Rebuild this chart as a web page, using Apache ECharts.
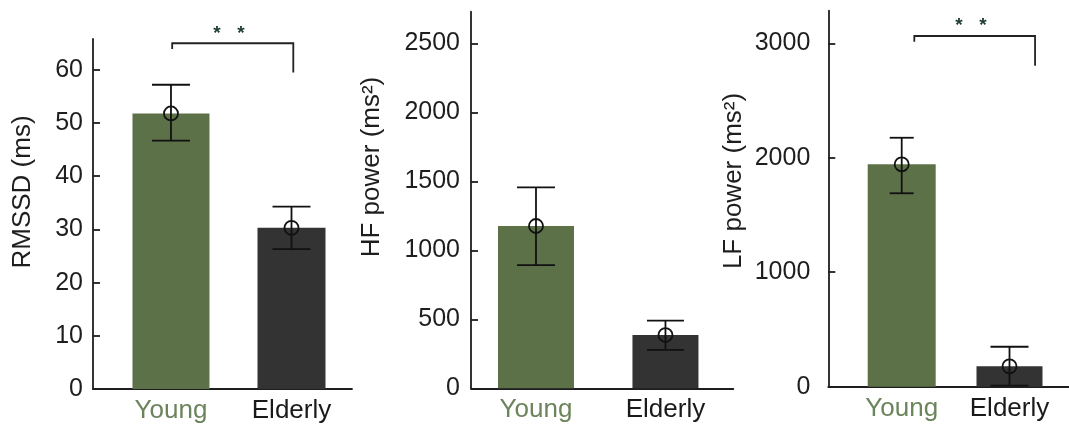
<!DOCTYPE html>
<html>
<head>
<meta charset="utf-8">
<script src="https://cdn.jsdelivr.net/npm/echarts@6/dist/echarts.min.js"></script>
<style>
html,body{margin:0;padding:0;background:#fff;}
#chart{width:1069px;height:424px;}
</style>
</head>
<body>
<div id="chart"></div>
<script>
// ---------------- data ----------------
const categories = ['Young', 'Elderly'];

const rmssdMean = [51.8, 30.3];
const rmssdLow  = [46.7, 26.3];
const rmssdHigh = [57.2, 34.3];

const hfMean = [1176, 386];
const hfLow  = [893, 278];
const hfHigh = [1456, 490];

const lfMean = [1943, 178];
const lfLow  = [1690, 10];
const lfHigh = [2175, 349];

const rmssdTicks = [0, 10, 20, 30, 40, 50, 60];
const hfTicks = [0, 500, 1000, 1500, 2000, 2500];
const lfTicks = [0, 1000, 2000, 3000];

// significance brackets: [xLeft, xRight, yTop, yLeftEnd, yRightEnd, xStars, yStars]
const rmssdBracket = [0.01, 1.015, 65.0, 63.9, 59.5, 0.48, 67.6];
const lfBracket = [0.117, 1.237, 3064, 3014, 2804, 0.642, 3190];
const sigLabel = '*';

const titles = ['RMSSD (ms)', 'HF power (ms²)', 'LF power (ms²)'];

// ---------------- style ----------------
const FONT = 'Liberation Sans, Arial, sans-serif';
const INK = '#1e1e1e';
const barColors = ['#5d7149', '#333333'];
const labelColors = ['#6c845c', '#1a1a1a'];
const starColor = '#1f3d33';
const LW = 1.8;

const panels = [
  {grid:{left:93, top:39, width:259, height:350}, xMin:-0.647, xMax:1.502, yMax:65.8,
   ticks:rmssdTicks, mean:rmssdMean, low:rmssdLow, high:rmssdHigh, barW:[77,68], capW:[38,38], labelMargin:10,
   bracket:rmssdBracket, title:titles[0], titlePos:[23,192]},
  {grid:{left:471, top:11.7, width:262.3, height:376.6}, xMin:-0.502, xMax:1.524, yMax:2729,
   ticks:hfTicks, mean:hfMean, low:hfLow, high:hfHigh, barW:[76,66], capW:[38,37], labelMargin:11,
   bracket:null, title:titles[1], titlePos:[372,167]},
  {grid:{left:828.3, top:10.7, width:240.7, height:376}, xMin:-0.681, xMax:1.552, yMax:3285,
   ticks:lfTicks, mean:lfMean, low:lfLow, high:lfHigh, barW:[68,66], capW:[24,38], labelMargin:18,
   bracket:lfBracket, title:titles[2], titlePos:[734,181]}
];

const grids = [], xAxes = [], yAxes = [], series = [], graphics = [];

panels.forEach((p, k) => {
  grids.push(Object.assign({containLabel:false}, p.grid));
  xAxes.push({
    type:'value', gridIndex:k, min:p.xMin, max:p.xMax,
    splitLine:{show:false},
    axisLine:{show:true, onZero:false, lineStyle:{color:INK, width:LW}},
    axisTick:{show:false},
    axisLabel:{
      customValues:[0, 1],
      formatter:(v) => categories[Math.round(v)],
      color:(v) => labelColors[Math.round(Number(v))] || INK,
      fontFamily:FONT, fontSize:26, margin:9
    }
  });
  yAxes.push({
    type:'value', gridIndex:k, min:0, max:p.yMax,
    splitLine:{show:false},
    axisLine:{show:true, onZero:false, lineStyle:{color:INK, width:LW}},
    axisTick:{show:true, inside:true, length:7, customValues:p.ticks, lineStyle:{color:INK, width:LW}},
    axisLabel:{customValues:p.ticks, formatter:(v) => String(v), fontFamily:FONT, fontSize:25, color:INK, margin:p.labelMargin}
  });

  // bars
  series.push({
    type:'custom', xAxisIndex:k, yAxisIndex:k, clip:false, z:2,
    data: categories.map((c, i) => [i, p.mean[i]]),
    encode:{x:0, y:1},
    renderItem:(params, api) => {
      const i = api.value(0);
      const top = api.coord([i, api.value(1)]);
      const base = api.coord([i, 0]);
      const w = p.barW[i];
      return {type:'rect', shape:{x:top[0]-w/2, y:top[1], width:w, height:base[1]-top[1]},
              style:{fill:barColors[i]}};
    }
  });

  // error bars + mean circles
  series.push({
    type:'custom', xAxisIndex:k, yAxisIndex:k, clip:false, z:3,
    data: categories.map((c, i) => [i, p.low[i], p.high[i], p.mean[i]]),
    encode:{x:0, y:[1,2,3]},
    renderItem:(params, api) => {
      const i = api.value(0);
      const lo = api.coord([i, api.value(1)]);
      const hi = api.coord([i, api.value(2)]);
      const m = api.coord([i, api.value(3)]);
      const hw = p.capW[i]/2;
      const ls = {stroke:'#111', lineWidth:LW, fill:null};
      return {type:'group', children:[
        {type:'line', shape:{x1:lo[0], y1:lo[1], x2:hi[0], y2:hi[1]}, style:ls},
        {type:'line', shape:{x1:hi[0]-hw, y1:hi[1], x2:hi[0]+hw, y2:hi[1]}, style:ls},
        {type:'line', shape:{x1:lo[0]-hw, y1:lo[1], x2:lo[0]+hw, y2:lo[1]}, style:ls},
        {type:'circle', shape:{cx:m[0], cy:m[1], r:7}, style:{stroke:'#111', lineWidth:LW, fill:'none'}}
      ]};
    }
  });

  // significance bracket
  if (p.bracket) {
    series.push({
      type:'custom', xAxisIndex:k, yAxisIndex:k, clip:false, z:4,
      data:[p.bracket],
      encode:{x:[0,1,5], y:[2,3,4,6]},
      renderItem:(params, api) => {
        const tl = api.coord([api.value(0), api.value(2)]);
        const tr = api.coord([api.value(1), api.value(2)]);
        const bl = api.coord([api.value(0), api.value(3)]);
        const br = api.coord([api.value(1), api.value(4)]);
        const st = api.coord([api.value(5), api.value(6)]);
        const ls = {stroke:'#222', lineWidth:LW, fill:null};
        const starStyle = (dx) => ({type:'text', x:st[0]+dx, y:st[1]+4,
          style:{text:sigLabel, font:'bold 19px ' + FONT, fill:starColor, align:'center', verticalAlign:'middle'}});
        return {type:'group', children:[
          {type:'polyline', shape:{points:[bl, tl, tr, br]}, style:ls},
          starStyle(-12), starStyle(12)
        ]};
      }
    });
  }

  graphics.push({
    type:'text', x:p.titlePos[0], y:p.titlePos[1], rotation:Math.PI/2,
    style:{text:p.title, font:'26px ' + FONT, fill:INK, align:'center', verticalAlign:'middle'}
  });
});

const chart = echarts.init(document.getElementById('chart'), null, {renderer:'canvas'});
chart.setOption({
  animation:false,
  backgroundColor:'#ffffff',
  textStyle:{fontFamily:FONT},
  grid:grids, xAxis:xAxes, yAxis:yAxes, series:series, graphic:graphics
});
</script>
</body>
</html>
